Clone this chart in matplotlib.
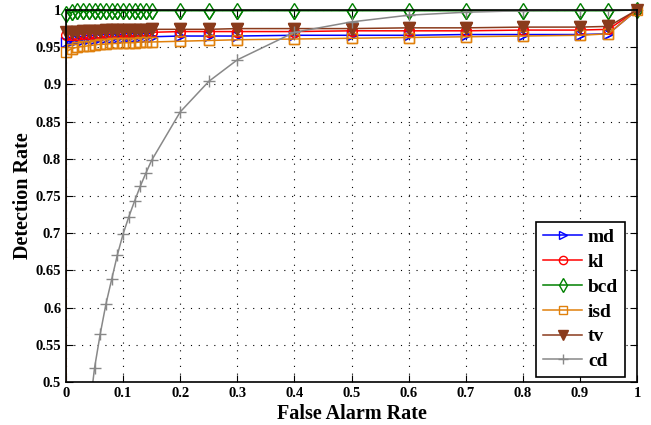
import matplotlib
matplotlib.use('Agg')
import matplotlib.pyplot as plt

# ROC curves: detection rate vs false alarm rate

far = [0, 0, 0.01, 0.02, 0.03, 0.04, 0.05, 0.06, 0.07, 0.08, 0.09, 0.10, 0.11, 0.12,
       0.13, 0.14, 0.15, 0.2, 0.25, 0.3, 0.4, 0.5, 0.6, 0.7, 0.8, 0.9, 0.95, 1.0]

md = [0, 0.957, 0.958, 0.959, 0.960, 0.961, 0.961, 0.962, 0.962, 0.963, 0.963, 0.963, 0.964, 0.964,
      0.964, 0.964, 0.964, 0.965, 0.965, 0.965, 0.966, 0.966, 0.966, 0.967, 0.967, 0.967, 0.968, 1.0]
kl = [0, 0.966, 0.967, 0.967, 0.968, 0.968, 0.968, 0.969, 0.969, 0.969, 0.969, 0.970, 0.970, 0.970,
      0.970, 0.970, 0.970, 0.971, 0.971, 0.971, 0.971, 0.972, 0.972, 0.972, 0.973, 0.973, 0.974, 1.0]
bcd = [0, 0.995, 0.997, 0.998, 0.998, 0.998, 0.999, 0.999, 0.999, 0.999, 0.999, 0.999, 0.999, 0.999,
       0.999, 0.999, 0.999, 0.999, 0.999, 0.999, 0.999, 0.999, 0.999, 0.999, 0.999, 0.999, 0.999, 1.0]
isd = [0, 0.944, 0.948, 0.950, 0.951, 0.952, 0.953, 0.954, 0.954, 0.955, 0.955, 0.956, 0.956, 0.956,
       0.957, 0.957, 0.957, 0.958, 0.959, 0.960, 0.961, 0.962, 0.963, 0.964, 0.965, 0.966, 0.968, 1.0]
tv = [0, 0.970, 0.971, 0.971, 0.972, 0.972, 0.972, 0.972, 0.973, 0.973, 0.973, 0.973, 0.973, 0.973,
      0.973, 0.973, 0.974, 0.974, 0.974, 0.975, 0.975, 0.975, 0.976, 0.976, 0.977, 0.977, 0.978, 1.0]
cd = [0, 0, 0.17, 0.29, 0.38, 0.455, 0.519, 0.565, 0.605, 0.638, 0.671, 0.699, 0.722, 0.743,
      0.763, 0.781, 0.798, 0.863, 0.904, 0.933, 0.970, 0.984, 0.993, 0.997, 0.999, 1.0, 1.0, 1.0]

xticks = [0, 0.1, 0.2, 0.3, 0.4, 0.5, 0.6, 0.7, 0.8, 0.9, 1]
xticklabels = ['0', '0.1', '0.2', '0.3', '0.4', '0.5', '0.6', '0.7', '0.8', '0.9', '1']
yticks = [0.5, 0.55, 0.6, 0.65, 0.7, 0.75, 0.8, 0.85, 0.9, 0.95, 1]
yticklabels = ['0.5', '0.55', '0.6', '0.65', '0.7', '0.75', '0.8', '0.85', '0.9', '0.95', '1']

plt.rcParams['font.family'] = ['Liberation Serif', 'DejaVu Serif']
plt.rcParams['font.weight'] = 'bold'

fig = plt.figure(figsize=(6.51, 4.25), dpi=100)
ax = fig.add_axes([0.1014, 0.1012, 0.8771, 0.8753])

series = [
    ('md', md, '#0000ff', '>', 'none', 7),
    ('kl', kl, '#ff0000', 'o', 'none', 7),
    ('bcd', bcd, '#008000', 'd', 'none', 8),
    ('isd', isd, '#e0800c', 's', 'none', 7),
    ('tv', tv, '#8a3b1c', 'v', '#8a3b1c', 8),
    ('cd', cd, '#888888', '+', 'none', 9),
]
for name, ys, col, mk, fc, ms in series:
    ax.plot(far, ys, color=col, marker=mk, mfc=fc, ms=ms, lw=1.1, label=name)
    # markers near the top edge are not cut off in the original
    if name != 'cd':
        ax.plot(far[1:], ys[1:], ls='none', color=col, marker=mk, mfc=fc, ms=ms,
                clip_on=False)

ax.set_xlim(0, 1)
ax.set_ylim(0.5, 1)
ax.set_xticks(xticks)
ax.set_xticklabels(xticklabels)
ax.set_yticks(yticks)
ax.set_yticklabels(yticklabels)
ax.tick_params(direction='in', top=True, right=True, labelsize=10.5, length=5)
ax.grid(True, linestyle=(0, (1, 6)), color='black', linewidth=0.8)
for sp in ax.spines.values():
    sp.set_linewidth(1.2)

ax.set_xlabel('False Alarm Rate', fontsize=14.5, fontweight='bold', labelpad=3)
ax.set_ylabel('Detection Rate', fontsize=14.5, fontweight='bold', labelpad=2)

leg = ax.legend(loc='lower right', bbox_to_anchor=(0.979, 0.0134), borderaxespad=0,
                fontsize=14, fancybox=False, framealpha=1, edgecolor='black',
                handlelength=2.0, handletextpad=0.3, labelspacing=0.37,
                borderpad=0.35, markerscale=0.85)
leg.get_frame().set_linewidth(1.2)

fig.savefig('out.png', dpi=100)
